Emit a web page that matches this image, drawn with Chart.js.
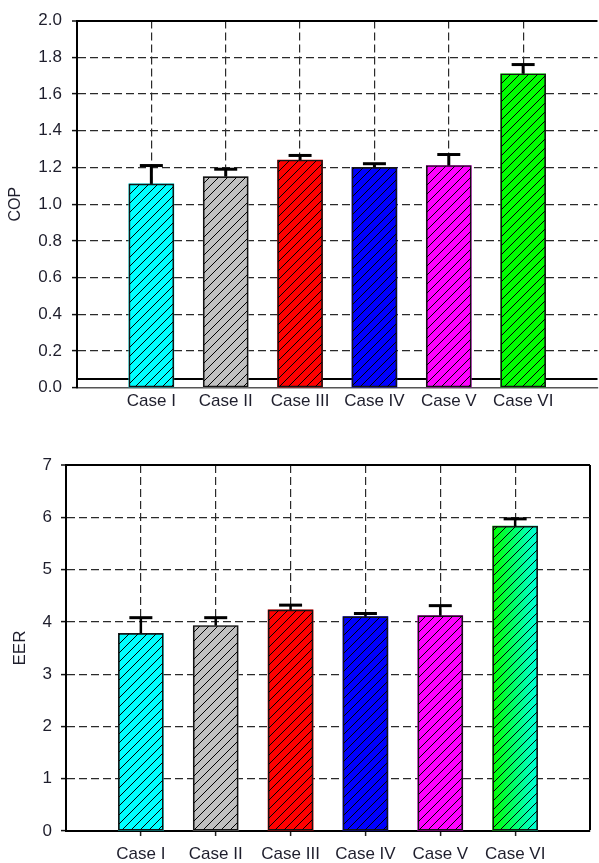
<!DOCTYPE html>
<html>
<head>
<meta charset="utf-8">
<script src="https://cdn.jsdelivr.net/npm/chart.js@4.4.1/dist/chart.umd.min.js"></script>
<style>
  html, body { margin: 0; padding: 0; background: #fff; overflow: hidden; width: 599px; height: 863px; }
  canvas { position: absolute; left: 0; }
  #cop { top: 0; }
  #eer { top: 430px; }
</style>
</head>
<body>
<canvas id="cop" width="601" height="430"></canvas>
<canvas id="eer" width="599" height="433"></canvas>
<script>
// Categories and measured values
const cases = ['Case I', 'Case II', 'Case III', 'Case IV', 'Case V', 'Case VI'];

const copValues = [1.11, 1.15, 1.24, 1.20, 1.21, 1.71];
const copErrors = [0.10, 0.04, 0.025, 0.02, 0.06, 0.05];
const copTicks  = [0, 0.2, 0.4, 0.6, 0.8, 1.0, 1.2, 1.4, 1.6, 1.8, 2.0];
const copBaseline = 0.05;

const eerValues = [3.78, 3.93, 4.23, 4.10, 4.12, 5.83];
const eerErrors = [0.30, 0.15, 0.09, 0.06, 0.19, 0.14];
const eerTicks  = [0, 1, 2, 3, 4, 5, 6, 7];

// Bar fills; a pair means a left-to-right gradient
const copColors = ['#00ffff', '#c0c0c0', '#ff0000', '#0000ff', '#ff00ff', '#00ff00'];
const eerColors = ['#00ffff', '#c0c0c0', '#ff0000', '#0000ff', '#ff00ff', ['#00ff00', '#00ffdd']];

const FONT = "'Liberation Sans', Arial, sans-serif";
const TEXT = '#1e1e2c';
const GRID = '#2a2a2a';
const TICK_SIZE = 17;
const BAR_W = 45;
const SLOTS = cases.length + 1;   // one empty slot each side of the bars

function hatchPattern(ctx, size) {
  const c = document.createElement('canvas');
  c.width = c.height = size;
  const g = c.getContext('2d');
  g.strokeStyle = '#000';
  g.lineWidth = 1;
  g.beginPath();
  g.moveTo(0, size); g.lineTo(size, 0);
  g.moveTo(-size / 2, size / 2); g.lineTo(size / 2, -size / 2);
  g.moveTo(size / 2, size * 1.5); g.lineTo(size * 1.5, size / 2);
  g.stroke();
  return ctx.createPattern(c, 'repeat');
}

// Upper error whiskers with a flat cap
const errorBars = {
  id: 'errorBars',
  afterDatasetsDraw(chart, args, opts) {
    const { ctx, scales: { x, y } } = chart;
    ctx.save();
    ctx.strokeStyle = '#000';
    ctx.lineCap = 'butt';
    opts.values.forEach((v, i) => {
      const px = x.getPixelForValue(i + 1);
      const y0 = y.getPixelForValue(v);
      const y1 = y.getPixelForValue(v + opts.errors[i]);
      ctx.lineWidth = opts.stem;
      ctx.beginPath(); ctx.moveTo(px, y0); ctx.lineTo(px, y1); ctx.stroke();
      ctx.lineWidth = opts.cap;
      ctx.beginPath(); ctx.moveTo(px - opts.half, y1); ctx.lineTo(px + opts.half, y1); ctx.stroke();
    });
    ctx.restore();
  }
};

// Solid reference line drawn under the bars
const refLine = {
  id: 'refLine',
  beforeDatasetsDraw(chart, args, opts) {
    if (opts.value == null) return;
    const { ctx, chartArea, scales: { y } } = chart;
    const py = Math.round(y.getPixelForValue(opts.value));
    ctx.save();
    ctx.strokeStyle = '#000';
    ctx.lineWidth = 2;
    ctx.beginPath(); ctx.moveTo(chartArea.left, py); ctx.lineTo(chartArea.right, py); ctx.stroke();
    ctx.restore();
  }
};

function makeChart(el, o) {
  const ctx = el.getContext('2d');
  const points = cases.map((c, i) => ({ x: i + 1, y: o.values[i] }));
  const yMax = o.ticks[o.ticks.length - 1];
  const isTop = t => t.tick && Math.abs(t.tick.value - yMax) < 1e-9;
  const isEdgeX = t => t.tick && (t.tick.value === 0 || t.tick.value === SLOTS);

  const fill = (c) => {
    const spec = o.colors[c.dataIndex];
    if (c.type !== 'data' || spec === undefined) return o.colors[0];
    if (!Array.isArray(spec)) return spec;
    const chart = c.chart;
    if (!chart.chartArea) return spec[0];
    const cx = chart.scales.x.getPixelForValue(c.dataIndex + 1);
    const g = chart.ctx.createLinearGradient(cx - BAR_W / 2, 0, cx + BAR_W / 2, 0);
    g.addColorStop(0, spec[0]);
    g.addColorStop(1, spec[1]);
    return g;
  };

  return new Chart(ctx, {
    type: 'bar',
    data: {
      datasets: [
        { data: points, backgroundColor: fill, borderWidth: 0, barThickness: BAR_W, grouped: false, order: 2 },
        { data: points, backgroundColor: hatchPattern(ctx, 9), borderColor: '#151515', borderWidth: 1,
          borderSkipped: false, barThickness: BAR_W, grouped: false, order: 1 }
      ]
    },
    options: {
      responsive: false,
      animation: false,
      devicePixelRatio: 1,
      layout: { padding: o.padding },
      plugins: {
        legend: { display: false },
        tooltip: { enabled: false },
        errorBars: { values: o.values, errors: o.errors, stem: o.stem, cap: 3, half: 11.5 },
        refLine: { value: o.baseline }
      },
      scales: {
        x: {
          type: 'linear',
          min: 0,
          max: SLOTS,
          offset: false,
          afterBuildTicks: s => { s.ticks = Array.from({ length: SLOTS + 1 }, (_, i) => ({ value: i })); },
          afterFit: s => { s.height = o.xHeight; },
          ticks: {
            autoSkip: false, maxRotation: 0, padding: o.xPad,
            color: TEXT, font: { family: FONT, size: TICK_SIZE },
            callback: v => cases[v - 1] || ''
          },
          grid: {
            offset: false,
            drawTicks: o.xTicks,
            tickLength: 5,
            tickWidth: 1.5,
            tickColor: t => isEdgeX(t) ? 'rgba(0,0,0,0)' : '#222',
            color: t => {
              if (t.tick && t.tick.value === 0) return 'rgba(0,0,0,0)';
              if (t.tick && t.tick.value === SLOTS) return o.rightFrame ? '#000' : 'rgba(0,0,0,0)';
              return GRID;
            },
            lineWidth: t => (t.tick && t.tick.value === SLOTS) ? 2 : 1.2
          },
          border: {
            color: o.xBorderColor, width: o.xBorderWidth,
            dash: t => (t.tick && t.tick.value === SLOTS) ? [] : [8, 4]
          }
        },
        y: {
          min: o.ticks[0],
          max: yMax,
          afterBuildTicks: s => { s.ticks = o.ticks.map(v => ({ value: v })); },
          afterFit: s => { s.width = o.yWidth; },
          title: {
            display: true, text: o.title, color: TEXT,
            font: { family: FONT, size: o.titleSize }, padding: { top: o.titlePad, bottom: 0 }
          },
          ticks: {
            padding: o.yPad, color: TEXT, font: { family: FONT, size: TICK_SIZE },
            callback: v => v.toFixed(o.decimals)
          },
          grid: {
            tickLength: 5,
            tickWidth: 1.5,
            tickColor: '#111',
            color: t => {
              if (t.tick && t.tick.value === o.ticks[0]) return 'rgba(0,0,0,0)';
              return isTop(t) ? '#000' : GRID;
            },
            lineWidth: t => isTop(t) ? 2 : 1.2
          },
          border: {
            color: '#000', width: 2,
            dash: t => isTop(t) ? [] : [8, 4]
          }
        }
      }
    },
    plugins: [errorBars, refLine]
  });
}

makeChart(document.getElementById('cop'), {
  values: copValues, errors: copErrors, colors: copColors, ticks: copTicks,
  baseline: copBaseline, decimals: 1, title: 'COP', titleSize: 16, titlePad: 6,
  padding: { top: 20.5, left: 0, right: 0, bottom: 2.3 },
  yWidth: 77, yPad: 10, xHeight: 40, xPad: 3.5, xTicks: false,
  xBorderColor: '#555', xBorderWidth: 1.5, rightFrame: false, stem: 3
});

makeChart(document.getElementById('eer'), {
  values: eerValues, errors: eerErrors, colors: eerColors, ticks: eerTicks,
  baseline: null, decimals: 0, title: 'EER', titleSize: 17, titlePad: 10,
  padding: { top: 35, left: 0, right: 9, bottom: 0 },
  yWidth: 66, yPad: 9, xHeight: 32, xPad: 8.5, xTicks: true,
  xBorderColor: '#000', xBorderWidth: 2, rightFrame: true, stem: 2.5
});
</script>
</body>
</html>
